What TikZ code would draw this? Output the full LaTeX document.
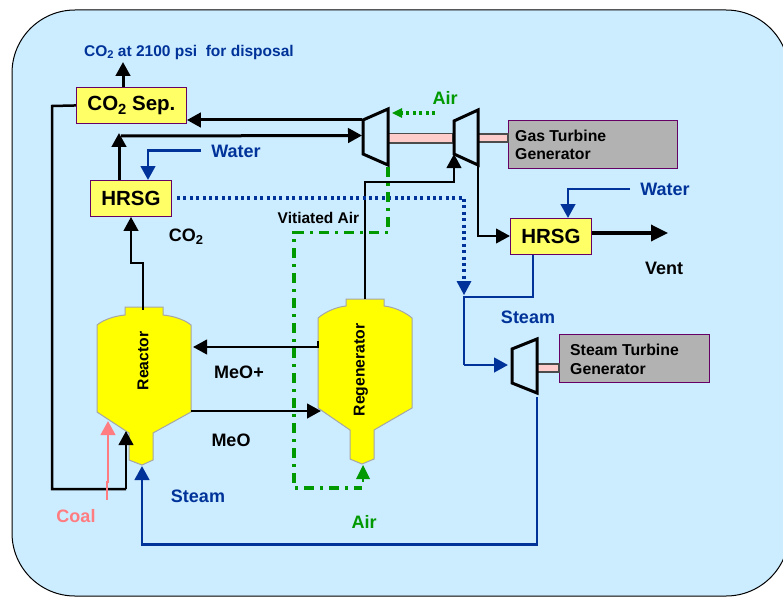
\documentclass[tikz,border=0pt]{standalone}
\usepackage{fontspec}
\setmainfont{Liberation Sans}
\usetikzlibrary{arrows.meta}
\definecolor{bgblue}{HTML}{CCECFF}
\definecolor{dblue}{HTML}{003399}
\definecolor{dgreen}{HTML}{009900}
\definecolor{coal}{HTML}{FF7C80}
\definecolor{pinkbar}{HTML}{FFCCCC}
\definecolor{ybox}{HTML}{FFFF66}
\definecolor{yves}{HTML}{FFFF00}
\definecolor{purp}{HTML}{660066}
\definecolor{gbox}{HTML}{B2B2B2}
\newcommand{\lowtwo}{\raisebox{-.36ex}{\scalebox{.72}{2}}}
\tikzset{
 x=1pt,y=-1pt,
 tip/.style={-{Triangle[length=14pt,width=14.500pt]}},
 bigtip/.style={-{Triangle[length=17pt,width=16pt]}},
 flow/.style={black,line width=3pt},
 thinflow/.style={black,line width=2.5pt},
 wflow/.style={dblue,line width=2.800pt},
 dotflow/.style={dblue,line width=3.200pt,dash pattern=on 3pt off 3.4pt},
 gdot/.style={dgreen,line width=3.200pt,dash pattern=on 3pt off 3.4pt},
 gdash/.style={dgreen,line width=3.200pt,dash pattern=on 10pt off 6pt on 3pt off 6pt},
 ybx/.style={draw=purp,fill=ybox,line width=.9pt,inner sep=0pt,anchor=north west,font=\fontsize{20.5}{22}\selectfont\bfseries},
 gbx/.style={draw=purp,fill=gbox,line width=1.2pt,inner sep=0pt,anchor=north west},
 gtext/.style={font=\fontsize{15.8}{18.7}\selectfont\bfseries,align=left,anchor=west,inner sep=0pt},
 lab/.style={font=\fontsize{18}{20}\selectfont\bfseries,inner sep=0pt},
 vessel/.style={draw=black!35,fill=yves,line width=1pt},
 vlab/.style={rotate=90,font=\fontsize{15.7}{18}\selectfont\bfseries,inner sep=0pt},
 turb/.style={draw=black,line width=3pt,fill=bgblue,line join=miter},
 shaft/.style={draw=black!70,fill=pinkbar,line width=1.2pt},
}
\begin{document}
\begin{tikzpicture}
\useasboundingbox (0,0) rectangle (783,596);
\fill[white] (0,0) rectangle (783,596);
\draw[fill=bgblue,draw=black,line width=1pt,rounded corners=63pt] (12,10) rectangle (789,596);

% vessels
\path[vessel] (125,307) -- (163,307) -- (163,315) .. controls (174,316) and (185,320) .. (191,325) -- (191,412) -- (153,433) -- (153,460) -- (142,465) -- (129,460) -- (129,433) -- (97,412) -- (97,325) .. controls (103,320) and (114,316) .. (125,315) -- cycle;
\path[vessel] (346,299) -- (384,299) -- (384,306) .. controls (394,307) and (405,312) .. (412,318) -- (412,408) -- (374,430) -- (374,459) -- (362,464) -- (350,459) -- (350,430) -- (318,408) -- (318,318) .. controls (325,312) and (336,307) .. (346,306) -- cycle;
\node[vlab] (rlab) at (143,361) {Reactor};
\node[vlab] (glab) at (361,370) {Regenerator};

% boxes
\node[ybx,minimum width=110pt,minimum height=36pt] (sep) at (76,87) {CO\lowtwo{} Sep.};
\node[ybx,minimum width=81pt,minimum height=36pt] (h1) at (90,180) {HRSG};
\node[ybx,minimum width=81pt,minimum height=36pt] (h2) at (510,218) {HRSG};
\node[gbx,minimum width=169pt,minimum height=48pt] (g1) at (508,120) {};
\node[gbx,minimum width=150pt,minimum height=48pt] (g2) at (559,334) {};
\node[gtext] (g1t) at (515,145) {Gas Turbine\\Generator};
\node[gtext] (g2t) at (570,359) {Steam Turbine\\Generator};

% shafts
\path[shaft] (388,133.500) rectangle (453,143);
\path[shaft] (478,134) rectangle (508,142);
\path[shaft] (537,364) rectangle (559,372);

% turbines
\path[turb] (363,120) -- (388,109) -- (388,165) -- (363,154) -- cycle;
\path[turb] (454,121) -- (478,110) -- (478,165) -- (454,154) -- cycle;
\path[turb] (512,349) -- (537,339) -- (537,393) -- (512,383) -- cycle;
\coordinate (cin) at (362,135.500);
\coordinate (cout) at (362,120);
\coordinate (tin) at (454,154);
\coordinate (tout) at (478,166);
\coordinate (sin) at (508,365);
\coordinate (sout) at (537,397);

% CO2 sep connections
\coordinate (ctop) at (123,62);
\draw[flow,tip] (sep.north -| ctop) -- (ctop);
\draw[thinflow] (sep.west) -- (52,106) -- (52,489) -- (126,489) coordinate (l1);
\coordinate (rin) at (126,431);
\draw[thinflow,tip] (l1) -- (rin);
\draw[flow,tip] (cout) -- (sep.east |- cout);
\draw[flow,tip] (121,136) -- (cin);
\coordinate (sepin) at (119,133);
\draw[flow,tip] (h1.north -| sepin) -- (sepin);
\coordinate (wa) at (201,150.500);
\draw[wflow,tip] (wa) -- (148,150.500) -- (h1.north -| 148,0);
\draw[thinflow,tip] (143,310) -- (143,263) -- (131,263) -- (h1.south -| 131,0);

% Turbine connections
\draw[thinflow,tip] (365,299) -- (365,182) -- (454,182) -- (tin);
\draw[thinflow,tip] (tout) -- (478,236) -- (h2.west |- 0,236);
\draw[flow,line width=3.400pt,bigtip] (h2.east |- 0,233) -- (668,233);
\coordinate (wb) at (630,189);
\draw[wflow,tip] (wb) -- (568,189) -- (h2.north -| 568,0);
\draw[wflow] (h2.south -| 533,0) -- (533,297) -- (464,297) -- (464,365);
\draw[wflow,tip] (464,365) -- (sin);
\draw[dotflow] (177,198) -- (464,198) -- (464,282);
\fill[dblue] (456.500,281) -- (471.500,281) -- (464,295) -- cycle;
\draw[wflow,tip] (sout) -- (537,544.500) -- (142,544.500) -- (142,466);

% Reactor / regenerator
\draw[thinflow,tip] (318,341) -- (318,347) -- (193,347);
\draw[thinflow,tip,line width=2.8pt] (191,411) -- (321,411);

% green
\draw[gdot] (435,113) -- (402,113);
\fill[dgreen] (402,108) -- (402,118) -- (392,113) -- cycle;
\draw[gdash] (388,167) -- (388,232.500) -- (294,232.500) -- (294,488) -- (362,488);
\fill[dgreen] (356,479) -- (370,479) -- (363,465) -- cycle;
\draw[dgreen,line width=2.8pt] (363,478) -- (363,482);

% coal
\draw[coal,line width=2.6pt,tip] (107,500) -- (107,482) -- (108,482) -- (108,421);

% labels
\node[lab,dblue,font=\fontsize{15.500}{18}\selectfont\bfseries,anchor=west] (t1) at (84,52) {CO\lowtwo{} at 2100 psi\ \ for disposal};
\node[lab,dgreen] (t2) at (445,98) {Air};
\node[lab,dblue] (t3) at (236,151) {Water};
\node[lab,dblue] (t4) at (665,189) {Water};
\node[lab,font=\fontsize{15.500}{18}\selectfont\bfseries] (t5) at (318.500,218) {Vitiated Air};
\node[lab] (t6) at (186,237) {CO\lowtwo{}};
\node[lab] (t7) at (664,268) {Vent};
\node[lab,dblue] (t8) at (528,317) {Steam};
\node[lab] (t9) at (239,372) {MeO+};
\node[lab] (t10) at (231,440) {MeO};
\node[lab,dblue] (t11) at (198,496) {Steam};
\node[lab,coal] (t12) at (76,516) {Coal};
\node[lab,dgreen] (t13) at (364,522) {Air};
\end{tikzpicture}
\end{document}
